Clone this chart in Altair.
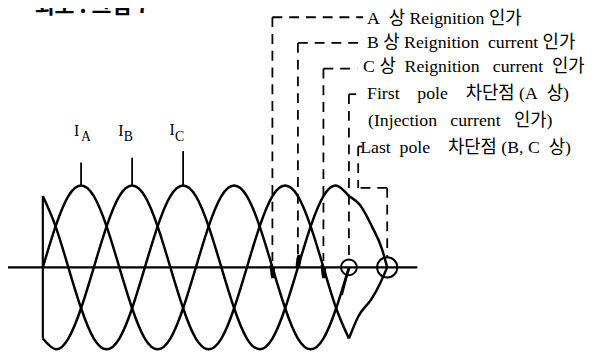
import altair as alt
import pandas as pd

# ---- data (phase angle in degrees, current in p.u.) ----
theta = list(range(0, 721, 30))
ia = [0, .5, .87, 1, .87, .5, 0, -.5, -.87, -1, -.87, -.5,
      0, .5, .87, 1, .87, .5, 0, -.5, -.87, -1, -.87, -.5, 0]
ib = [-.87, -1, -.87, -.5, 0, .5, .87, 1, .87, .5, 0, -.5,
      -.87, -1, -.87, -.5, 0, .5, .87, 1, .87, .5, 0, -.5, -.87]
ic = [.87, .5, 0, -.5, -.87, -1, -.87, -.5, 0, .5, .87, 1,
      .87, .5, 0, -.5, -.87, -1, -.87, -.5, 0, .5, .87, 1, .87]

# after first-pole clearing (B and C only)
ib_after_theta = [720, 742, 774, 793, 810]
ib_after = [-0.87, -0.6, -0.38, -0.2, 0]
ic_after_theta = [720, 746, 774, 798, 810]
ic_after = [0.87, 0.76, 0.5, 0.22, 0]

# injection current trace next to A before first pole
inj_theta = [704, 714, 722]
inj_vals = [-0.34, -0.14, 0.0]

# reignition current blobs
blob_a_theta = [537, 539, 541, 543, 542]
blob_a_vals = [0.03, -0.08, -0.13, -0.09, 0.0]
blob_b_theta = [598, 600, 603, 604, 601]
blob_b_vals = [0.0, 0.1, 0.15, 0.07, 0.0]
blob_c_theta = [657, 659, 661, 663, 662]
blob_c_vals = [0.03, -0.08, -0.13, -0.09, 0.0]

S = "\u00a0"  # non-collapsing space, to keep the wide type-set spacing
event_theta = [540, 600, 660, 720, 810]
event_labels = ["A" + S * 2 + "상 Reignition" + S + "인가",
                "B" + S + "상" + S + "Reignition" + S * 2 + "current" + S + "인가",
                "C" + S + "상" + S * 2 + "Reignition" + S * 3 + "current" + S * 2 + "인가",
                "First" + S * 4 + "pole" + S * 4 + "차단점" + S + "(A" + S * 2 + "상)",
                "Last" + S * 2 + "pole" + S * 4 + "차단점" + S + "(B," + S + "C" + S * 2 + "상)"]
extra_label = "(Injection" + S * 3 + "current" + S * 3 + "인가)"
peak_theta = [90, 210, 330]
phase_names = ["A", "B", "C"]
title_text = "회로 . 그림 7"
axis_end_theta = 881

# ---- scales (plot area maps the page minus the 8px margin) ----
X_DOM = [-81.9, 1287.0]
Y_DOM = [-1.030, 3.139]
xs = alt.Scale(domain=X_DOM, nice=False, zero=False)
ys = alt.Scale(domain=Y_DOM, nice=False, zero=False)


def X(f="theta"):
    return alt.X(f, type="quantitative", scale=xs, axis=None)


def Y(f="v"):
    return alt.Y(f, type="quantitative", scale=ys, axis=None)


def P(v):  # reference-picture pixel -> plot pixel
    return alt.value(v - 8)


SERIF = "Liberation Serif, Noto Sans CJK KR"
layers = []


def wave(th, vals, interp, sw=2.5):
    df = pd.DataFrame({"theta": th, "v": vals, "o": list(range(len(th)))})
    return alt.Chart(df).mark_line(color="black", strokeWidth=sw, interpolate=interp).encode(
        x=X(), y=Y(), order="o:Q")


layers.append(wave(theta, ia, "natural"))
layers.append(wave(theta, ib, "natural"))
layers.append(wave(theta, ic, "natural"))
layers.append(wave(ib_after_theta, ib_after, "monotone"))
layers.append(wave(ic_after_theta, ic_after, "monotone"))
layers.append(wave(inj_theta, inj_vals, "monotone", 1.6))
for bt, bv in [(blob_a_theta, blob_a_vals), (blob_b_theta, blob_b_vals), (blob_c_theta, blob_c_vals)]:
    layers.append(wave(bt, bv, "linear", 3.2))

# left vertical at start
layers.append(alt.Chart(pd.DataFrame({"theta": [theta[0]], "v": [ic[0]], "v2": [ib[0]]}))
              .mark_rule(color="black", strokeWidth=2.2).encode(x=X(), y=Y(), y2="v2"))
# zero axis
layers.append(alt.Chart(pd.DataFrame({"theta": [X_DOM[0]], "t2": [axis_end_theta], "v": [0]}))
              .mark_rule(color="black", strokeWidth=2.3).encode(x=X(), x2="t2", y=Y()))

# circles at clearing points
for th, size in [(event_theta[3], 256), (event_theta[4], 420)]:
    layers.append(alt.Chart(pd.DataFrame({"theta": [th], "v": [0]}))
                  .mark_point(shape="circle", filled=False, color="black", strokeWidth=2,
                              opacity=1, size=size).encode(x=X(), y=Y()))

# peak label ticks
tick_tops = [1.28, 1.34, 1.42]
layers.append(alt.Chart(pd.DataFrame({"theta": peak_theta, "v": [1.0] * 3, "v2": tick_tops}))
              .mark_rule(color="black", strokeWidth=1.8).encode(x=X(), y=Y(), y2="v2"))

# phase labels I_A, I_B, I_C
i_pos = [(77.5, 130.5, 87, 136), (122.5, 130, 130, 136), (174.5, 129, 182, 136)]
for name, (ix, iy, sx, sy) in zip(phase_names, i_pos):
    layers.append(alt.Chart(pd.DataFrame({"t": ["I"]})).mark_text(
        font=SERIF, fontSize=16, color="black", align="center", baseline="middle").encode(
        text="t:N", x=P(ix), y=P(iy)))
    layers.append(alt.Chart(pd.DataFrame({"t": [name]})).mark_text(
        font=SERIF, fontSize=14, color="black", align="center", baseline="middle").encode(
        text="t:N", x=P(sx), y=P(sy)))

# dashed leader lines
DASH = [10, 7]
LW = 1.8


def vdash(th, y1, y2):
    return alt.Chart(pd.DataFrame({"theta": [th]})).mark_rule(
        color="black", strokeWidth=LW, strokeDash=DASH).encode(x=X(), y=P(y1), y2=P(y2))


def hdash(th, xend, yy):
    return alt.Chart(pd.DataFrame({"theta": [th]})).mark_rule(
        color="black", strokeWidth=LW, strokeDash=DASH).encode(x=X(), x2=P(xend), y=P(yy))


def pxrule(x1, y1, x2, y2):
    return alt.Chart(pd.DataFrame({"a": [0]})).mark_rule(
        color="black", strokeWidth=LW, strokeDash=DASH).encode(x=P(x1), x2=P(x2), y=P(y1), y2=P(y2))


rows = [15, 41, 67, 93]
hend = [368, 366, 362, 361]
vbot = [262, 256, 262, 259]
for th, ry, he, vb in zip(event_theta[:4], rows, hend, vbot):
    layers.append(hdash(th, he, ry))
    layers.append(vdash(th, ry, vb))
# last pole bracket
layers.append(pxrule(363, 146, 367, 146))
layers.append(pxrule(363, 146, 363, 188))
layers.append(hdash(event_theta[4], 363, 188))
layers.append(vdash(event_theta[4], 188, 258))

# annotation texts
text_x = [372, 372, 368, 372, 365]
text_y = [16.5, 41, 66, 93, 148]
for lab, tx, ty in zip(event_labels, text_x, text_y):
    layers.append(alt.Chart(pd.DataFrame({"t": [lab]})).mark_text(
        font=SERIF, fontSize=18, color="black", align="left", baseline="middle").encode(
        text="t:N", x=P(tx), y=P(ty)))
layers.append(alt.Chart(pd.DataFrame({"t": [extra_label]})).mark_text(
    font=SERIF, fontSize=18, color="black", align="left", baseline="middle").encode(
    text="t:N", x=P(373), y=P(120)))

# partially visible caption at the top
layers.append(alt.Chart(pd.DataFrame({"t": [title_text]})).mark_text(
    font="Noto Sans CJK KR", fontSize=22, fontWeight="bold", color="black",
    align="left", baseline="alphabetic").encode(text="t:N", x=P(35), y=P(11)))

chart = alt.layer(*layers).properties(
    width=590, height=346,
    autosize=alt.AutoSizeParams(type="none"),
    padding=0,
    background="white",
).configure_view(stroke=None)

chart.save("out.html", embed_options={"renderer": "svg", "actions": False})
